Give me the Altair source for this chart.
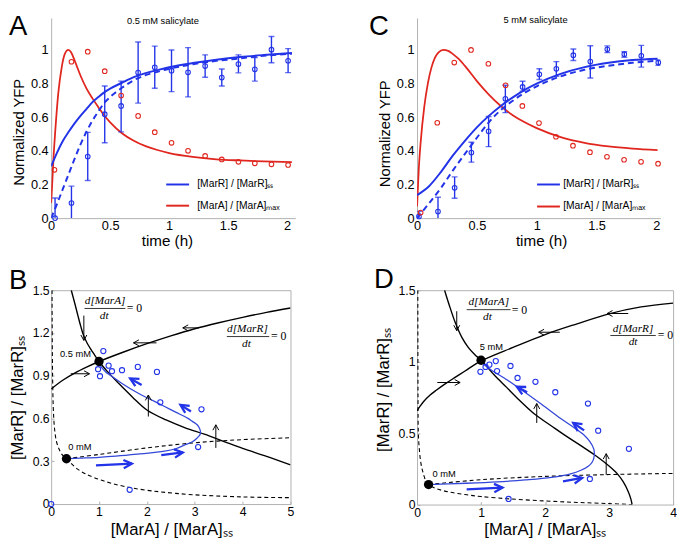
import math
import altair as alt
import pandas as pd

FONT = "Liberation Sans"
SERIF = "Liberation Serif"
BLUE = "#2233e8"
BLUE_TRAJ = "#3347d8"
RED = "#e0261e"
GRAY = "#b0b0b0"

# ============================ DATA ============================
# ---- Panel A : 0.5 mM salicylate ----
A_cond = "0.5 mM salicylate"
A_R_t = [0.033, 0.172, 0.31, 0.454, 0.593, 0.737, 0.878, 1.02, 1.16, 1.305, 1.446, 1.587, 1.726, 1.867, 2.008]
A_R_v = [0.0, 0.09, 0.366, 0.618, 0.667, 0.866, 0.897, 0.877, 0.867, 0.904, 0.836, 0.916, 0.885, 1.002, 0.936]
A_R_lo = [-0.12, -0.01, 0.224, 0.448, 0.513, 0.684, 0.772, 0.752, 0.721, 0.838, 0.786, 0.864, 0.815, 0.924, 0.865]
A_R_hi = [0.12, 0.19, 0.51, 0.786, 0.815, 1.047, 1.023, 1.0, 1.014, 0.971, 0.887, 0.971, 0.955, 1.08, 1.008]
A_A_t = [0.028, 0.172, 0.31, 0.454, 0.593, 0.737, 0.878, 1.02, 1.16, 1.305, 1.446, 1.587, 1.726, 1.867, 2.008]
A_A_v = [0.287, 0.93, 0.99, 0.874, 0.729, 0.608, 0.511, 0.448, 0.4, 0.37, 0.349, 0.335, 0.326, 0.32, 0.316]
A_mA_t = [0, 0.01, 0.02, 0.035, 0.06, 0.09, 0.115, 0.145, 0.17, 0.2, 0.25, 0.3, 0.35, 0.4, 0.45, 0.5,
          0.6, 0.7, 0.8, 0.9, 1.0, 1.2, 1.4, 1.6, 1.8, 2.04]
A_mA_v = [0.09, 0.22, 0.36, 0.52, 0.74, 0.9, 0.975, 1.0, 0.985, 0.935, 0.845, 0.77, 0.712, 0.66, 0.61, 0.57,
          0.505, 0.46, 0.428, 0.405, 0.387, 0.364, 0.35, 0.343, 0.338, 0.333]
A_mR_t = [0, 0.05, 0.1, 0.15, 0.2, 0.25, 0.3, 0.35, 0.4, 0.45, 0.5, 0.6, 0.7, 0.8, 0.9, 1.0, 1.2, 1.4, 1.6, 1.8, 2.04]
A_mR_v = [0.308, 0.39, 0.46, 0.515, 0.565, 0.61, 0.65, 0.69, 0.72, 0.748, 0.77, 0.805, 0.838, 0.862, 0.88, 0.897,
          0.922, 0.942, 0.958, 0.97, 0.982]
A_mRd_v = [0, 0.085, 0.175, 0.265, 0.355, 0.44, 0.515, 0.58, 0.635, 0.685, 0.72, 0.775, 0.82, 0.85, 0.87, 0.888,
           0.915, 0.935, 0.95, 0.965, 0.978]

# ---- Panel C : 5 mM salicylate ----
C_cond = "5 mM salicylate"
C_R_t = [0.016, 0.175, 0.314, 0.454, 0.598, 0.738, 0.882, 1.022, 1.164, 1.306, 1.448, 1.59, 1.732, 1.874, 2.016]
C_R_v = [0.01, 0.039, 0.18, 0.39, 0.516, 0.71, 0.78, 0.855, 0.888, 0.969, 0.931, 1.004, 0.975, 0.965, 0.925]
C_R_lo = [-0.02, -0.05, 0.118, 0.333, 0.425, 0.627, 0.755, 0.824, 0.843, 0.937, 0.833, 0.984, 0.957, 0.898, 0.908]
C_R_hi = [0.04, 0.124, 0.245, 0.451, 0.604, 0.79, 0.814, 0.888, 0.931, 1.006, 1.025, 1.024, 0.99, 1.027, 0.94]
C_A_t = [0.03, 0.169, 0.311, 0.451, 0.596, 0.74, 0.88, 1.019, 1.161, 1.303, 1.445, 1.587, 1.73, 1.872, 2.014]
C_A_v = [0.033, 0.567, 0.925, 1.0, 0.918, 0.79, 0.667, 0.565, 0.484, 0.431, 0.392, 0.365, 0.347, 0.335, 0.324]
C_mA_t = [0, 0.015, 0.03, 0.06, 0.09, 0.12, 0.15, 0.18, 0.22, 0.26, 0.3, 0.35, 0.4, 0.5, 0.6, 0.7, 0.8, 0.9,
          1.0, 1.2, 1.4, 1.6, 1.8, 2.01]
C_mA_v = [0.07, 0.3, 0.45, 0.66, 0.8, 0.895, 0.955, 0.985, 1.0, 0.995, 0.975, 0.945, 0.905, 0.815, 0.735, 0.667,
          0.612, 0.57, 0.535, 0.482, 0.448, 0.427, 0.414, 0.405]
C_mR_t = [0, 0.1, 0.2, 0.3, 0.4, 0.5, 0.6, 0.7, 0.8, 0.9, 1.0, 1.2, 1.4, 1.6, 1.8, 2.01]
C_mR_v = [0.137, 0.19, 0.275, 0.373, 0.46, 0.54, 0.608, 0.667, 0.718, 0.763, 0.8, 0.858, 0.898, 0.924, 0.94, 0.948]
C_mRd_v = [0, 0.088, 0.18, 0.284, 0.382, 0.478, 0.57, 0.643, 0.698, 0.745, 0.784, 0.843, 0.882, 0.906, 0.924, 0.936]

LEG_R = "[MarR] / [MarR]\u209b\u209b"
LEG_A = "[MarA] / [MarA]\u2098\u2090\u2093"

# ---- Panel B : phase plane, 0.5 mM ----
B_nullR_a = [0, 0.25, 0.5, 0.75, 1, 1.5, 2, 2.5, 3, 3.5, 4, 4.5, 5]
B_nullR_r = [0.807, 0.87, 0.92, 0.962, 1.0, 1.065, 1.125, 1.18, 1.23, 1.272, 1.31, 1.345, 1.375]
B_nullA_a = [0.42, 0.5, 0.56, 0.62, 0.68, 0.75, 0.83, 0.9, 1.0, 1.2, 1.4, 1.7, 2.0, 2.4, 2.8, 3.2, 3.6, 4.0, 4.5, 5.0]
B_nullA_r = [1.5, 1.4, 1.32, 1.245, 1.18, 1.13, 1.085, 1.05, 1.0, 0.92, 0.85, 0.75, 0.66, 0.59, 0.535, 0.49,
             0.44, 0.39, 0.335, 0.275]
B_null0A_a = [0.018, 0.02, 0.025, 0.032, 0.045, 0.07, 0.11, 0.16, 0.22, 0.32, 0.56, 0.9, 1.58, 2.6, 4.0, 5.0]
B_null0A_r = [1.5, 1.3, 1.05, 0.85, 0.67, 0.53, 0.44, 0.39, 0.35, 0.318, 0.243, 0.185, 0.12, 0.075, 0.05, 0.045]
B_null0R_a = [0.32, 1, 2, 3, 4, 5]
B_null0R_r = [0.318, 0.348, 0.394, 0.43, 0.452, 0.465]
B_traj_a = [0.32, 0.6, 1.0, 1.35, 1.8, 2.37, 2.6, 2.78, 2.95, 3.05, 3.11, 3.12, 3.1, 3.05, 2.95, 2.85, 2.6, 2.37,
            2.1, 1.82, 1.48, 1.25, 1.14, 1.05, 1.0]
B_traj_r = [0.318, 0.322, 0.328, 0.336, 0.35, 0.371, 0.388, 0.413, 0.437, 0.464, 0.487, 0.505, 0.53, 0.556, 0.58,
            0.603, 0.645, 0.684, 0.73, 0.777, 0.846, 0.9, 0.927, 0.96, 0.99]
B_obs_a = [0, 1.64, 3.07, 3.14, 2.28, 2.21, 1.81, 1.48, 1.27, 1.2, 1.09, 0.98, 1.02]
B_obs_r = [0, 0.1, 0.4, 0.665, 0.714, 0.927, 0.962, 0.939, 0.932, 0.971, 1.073, 0.946, 0.897]
B_fix_a = [0.32, 1.0]
B_fix_r = [0.318, 1.0]
B_fix_lab = ["0 mM", "0.5 mM"]
B_black_arrows = [(0.683, 1.322, 0.683, 1.148), (0.41, 0.914, 0.80, 0.914), (2.20, 1.131, 1.72, 1.131),
                  (3.09, 1.236, 2.75, 1.236), (2.03, 0.614, 2.03, 0.765), (3.44, 0.394, 3.44, 0.556)]
B_blue_arrows = [(0.936, 0.271, 1.687, 0.283), (2.30, 0.343, 2.75, 0.362), (2.92, 0.649, 2.70, 0.696),
                 (1.89, 0.835, 1.65, 0.881)]

# ---- Panel D : phase plane, 5 mM ----
D_nullR_a = [0, 0.05, 0.1, 0.2, 0.3, 0.45, 0.6, 0.75, 1.0, 1.5, 2.0, 2.5, 3.0, 3.5, 4.0]
D_nullR_r = [0.657, 0.69, 0.72, 0.765, 0.8, 0.848, 0.892, 0.935, 1.005, 1.1, 1.19, 1.265, 1.335, 1.383, 1.41]
D_nullA_a = [0.43, 0.5, 0.6, 0.7, 0.8, 0.9, 1.0, 1.2, 1.4, 1.6, 1.85, 2.1, 2.36, 2.6, 2.82, 3.0, 3.12, 3.22, 3.3,
             3.34, 3.36]
D_nullA_r = [1.5, 1.4, 1.27, 1.17, 1.1, 1.05, 1.01, 0.91, 0.82, 0.73, 0.628, 0.55, 0.47, 0.4, 0.333, 0.27, 0.22,
             0.16, 0.09, 0.04, 0.0]
D_null0A_a = [0.012, 0.013, 0.015, 0.02, 0.035, 0.06, 0.09, 0.14, 0.18, 0.3, 0.5, 0.75, 1.0, 1.44, 2.0, 2.5, 3.0, 3.36]
D_null0A_r = [1.5, 1.1, 0.75, 0.5, 0.39, 0.29, 0.23, 0.163, 0.14, 0.112, 0.088, 0.07, 0.056, 0.04, 0.025, 0.015,
              0.007, 0.0]
D_null0R_a = [0.18, 1, 2, 3, 4]
D_null0R_r = [0.14, 0.174, 0.197, 0.21, 0.218]
D_traj_a = [0.18, 0.5, 0.93, 1.34, 1.69, 2.1, 2.4, 2.56, 2.68, 2.74, 2.77, 2.76, 2.7, 2.6, 2.45, 2.25, 1.95, 1.64,
            1.39, 1.18, 1.05, 1.0]
D_traj_r = [0.14, 0.145, 0.152, 0.161, 0.172, 0.19, 0.215, 0.24, 0.27, 0.3, 0.345, 0.39, 0.44, 0.49, 0.54, 0.6,
            0.7, 0.8, 0.877, 0.935, 0.98, 1.005]
D_obs_a = [0.99, 1.07, 1.13, 1.23, 1.25, 1.46, 1.57, 1.85, 2.16, 2.67, 2.83, 3.31, 2.70, 1.43]
D_obs_r = [0.929, 0.963, 0.979, 1.004, 0.934, 0.97, 0.886, 0.859, 0.786, 0.707, 0.517, 0.39, 0.179, 0.039]
D_fix_a = [0.18, 1.0]
D_fix_r = [0.14, 1.01]
D_fix_lab = ["0 mM", "5 mM"]
D_black_arrows = [(0.62, 1.353, 0.62, 1.217), (0.316, 0.854, 0.673, 0.854), (2.23, 1.206, 1.90, 1.206),
                  (3.30, 1.337, 2.97, 1.337), (1.87, 0.571, 1.87, 0.707), (2.955, 0.208, 2.955, 0.356)]
D_blue_arrows = [(0.775, 0.107, 1.335, 0.118), (2.28, 0.163, 2.58, 0.186), (2.61, 0.519, 2.44, 0.571),
                 (1.72, 0.786, 1.56, 0.825)]

XT_PHASE = "[MarA] / [MarA]\u209b\u209b"
YT_PHASE = "[MarR] / [MarR]\u209b\u209b"

# ============================ LAYOUT ============================
W_A, W_C, H_TOP = 249, 248, 204
W_B, H_B = 244, 218
W_D, H_D = 261, 218.5
ROW_GAP, COL_GAP = 73.5, 124
CHEVRON = "M-1,-0.55L0,0L-1,0.55"
CHEVRON_B = "M-1,-0.5L0,0L-1,0.5"


def frame(x, y, **extra):
    d = pd.DataFrame({"x": list(x), "y": list(y)})
    d["i"] = range(len(d))
    for k, v in extra.items():
        d[k] = list(v)
    return d


def letter_mark(letter, lx, ly):
    return alt.Chart(pd.DataFrame({"t": [letter]})).mark_text(
        align="left", baseline="alphabetic", font=FONT, fontSize=28, color="black"
    ).encode(x=alt.value(lx), y=alt.value(ly), text="t:N")


def text_at(X, Y, xs, ys, texts, size, align="left", font=FONT, style="normal", color="black"):
    d = frame(xs, ys, t=texts)
    return alt.Chart(d).mark_text(align=align, baseline="middle", font=font, fontSize=size,
                                  fontStyle=style, color=color).encode(x=X, y=Y, text="t:N")


def timecourse(letter, lx, ly, cond, cond_xy, xmax, width, ytx, yty, xtx,
               R_t, R_v, R_lo, R_hi, A_t, A_v, mA_t, mA_v, mR_t, mR_v, mRd_v, leg):
    xs = alt.Scale(domain=[0, xmax], nice=False, zero=False)
    ys = alt.Scale(domain=[0, 1.19], nice=False, zero=False)
    ax = alt.Axis(values=[0, 0.5, 1, 1.5, 2], format="~g", title="time (h)", grid=False, ticks=False,
                  domainColor=GRAY, labelFontSize=13, labelPadding=1.5, labelFlush=False,
                  titleFontSize=15.5, titleFontWeight="normal", titleX=xtx, titleY=23,
                  titleBaseline="middle", titleAlign="center")
    ay = alt.Axis(values=[0, 0.2, 0.4, 0.6, 0.8, 1], format="~g", title="Normalized YFP", grid=False,
                  ticks=False, domainColor=GRAY, labelFontSize=13, labelPadding=3,
                  titleFontSize=15, titleFontWeight="normal", titleX=ytx, titleY=yty,
                  titleBaseline="middle", titleAlign="center", titleAngle=270)
    X = alt.X("x:Q", scale=xs, axis=ax)
    Y = alt.Y("y:Q", scale=ys, axis=ay)
    L = []
    L.append(alt.Chart(frame(mA_t, mA_v)).mark_line(color=RED, strokeWidth=1.8, interpolate="monotone",
                                                    clip=True).encode(x=X, y=Y))
    L.append(alt.Chart(frame(mR_t, mR_v)).mark_line(color=BLUE, strokeWidth=2.0, interpolate="monotone",
                                                    clip=True).encode(x=X, y=Y))
    L.append(alt.Chart(frame(mR_t, mRd_v)).mark_line(color=BLUE, strokeWidth=2.0, strokeDash=[6, 4],
                                                     interpolate="monotone", clip=True).encode(x=X, y=Y))
    eb = pd.DataFrame({"x": R_t, "y": R_lo, "y2": R_hi})
    L.append(alt.Chart(eb).mark_rule(color=BLUE, strokeWidth=1.4, clip=True).encode(x=X, y=Y, y2="y2:Q"))
    L.append(alt.Chart(frame(R_t + R_t, R_lo + R_hi)).mark_tick(
        color=BLUE, orient="horizontal", size=6, thickness=1.4, clip=True).encode(x=X, y=Y))
    L.append(alt.Chart(frame(R_t, R_v)).mark_point(shape="circle", filled=False, color=BLUE, size=22,
                                                   strokeWidth=1.1, opacity=1).encode(x=X, y=Y))
    L.append(alt.Chart(frame(A_t, A_v)).mark_point(shape="circle", filled=False, color=RED, size=22,
                                                   strokeWidth=1.1, opacity=1).encode(x=X, y=Y))
    x0, x1, tx, yR, yA = leg
    ld = pd.DataFrame({"x": [x0, x0], "x2": [x1, x1], "y": [yR, yA], "c": [BLUE, RED]})
    L.append(alt.Chart(ld).mark_rule(strokeWidth=2).encode(x=X, x2="x2:Q", y=Y,
                                                            color=alt.Color("c:N", scale=None)))
    L.append(text_at(X, Y, [tx, tx], [yR, yA], [LEG_R, LEG_A], 10.5))
    L.append(text_at(X, Y, [cond_xy[0]], [cond_xy[1]], [cond], 9.5, align="center"))
    L.append(letter_mark(letter, lx, ly))
    return alt.layer(*L).properties(width=width, height=H_TOP)


def arrows(X, Y, xscale_px, yscale_px, segs, color, sw, size, path):
    rows = []
    for (x1, y1, x2, y2) in segs:
        ang = math.degrees(math.atan2(-(y2 - y1) * yscale_px, (x2 - x1) * xscale_px)) % 360
        rows.append({"x": x1, "y": y1, "x2": x2, "y2": y2, "hx": x2, "hy": y2, "ang": ang})
    d = pd.DataFrame(rows)
    shaft = alt.Chart(d).mark_rule(color=color, strokeWidth=sw).encode(x=X, y=Y, x2="x2:Q", y2="y2:Q")
    hd = d[["hx", "hy", "ang"]].rename(columns={"hx": "x", "hy": "y"})
    head = alt.Chart(hd).mark_point(shape=path, filled=False, color=color, strokeWidth=sw, size=size,
                                    opacity=1).encode(x=X, y=Y, angle=alt.Angle("ang:Q", scale=None))
    return [shaft, head]


def fraction(X, Y, num, nx, ny, bx0, bx1, by, dx_, dy_, ex):
    L = []
    L.append(text_at(X, Y, [nx, dx_], [ny, dy_], [num, "dt"], 11.5, align="center", font=SERIF,
                     style="italic"))
    b = pd.DataFrame({"x": [bx0], "x2": [bx1], "y": [by]})
    L.append(alt.Chart(b).mark_rule(color="black", strokeWidth=0.8).encode(x=X, x2="x2:Q", y=Y))
    L.append(text_at(X, Y, [ex], [by], ["= 0"], 12, font=SERIF))
    return L


def phase(letter, lx, ly, xmax, xvals, yvals, width, height, xtx, ytx, yty,
          nullR, nullA, null0A, null0R, traj, obs, fix, fix_lab_specs,
          black_arrows, blue_arrows, fracA, fracR):
    xs = alt.Scale(domain=[0, xmax], nice=False, zero=False)
    ys = alt.Scale(domain=[0, 1.5], nice=False, zero=False)
    common = dict(format="~g", grid=False, domain=False, ticks=True, tickSize=3, tickColor=GRAY,
                  offset=-3, labelFontSize=12.5, labelPadding=2, titleFontSize=17, titleFontWeight="normal",
                  titleBaseline="middle", titleAlign="center")
    ax = alt.Axis(values=xvals, title=XT_PHASE, labelFlush=False, titleX=xtx, titleY=29, **common)
    ay = alt.Axis(values=yvals, title=YT_PHASE, titleX=ytx, titleY=yty, titleAngle=270, **common)
    X = alt.X("x:Q", scale=xs, axis=ax)
    Y = alt.Y("y:Q", scale=ys, axis=ay)
    sx, sy = width / xmax, height / 1.5
    L = []
    L.append(alt.Chart(frame(*null0A)).mark_line(color="black", strokeWidth=1.1, strokeDash=[4, 3],
                                                 interpolate="catmull-rom", clip=True)
             .encode(x=X, y=Y, order=alt.Order("i:Q")))
    L.append(alt.Chart(frame(*null0R)).mark_line(color="black", strokeWidth=1.1, strokeDash=[4, 3],
                                                 interpolate="catmull-rom", clip=True)
             .encode(x=X, y=Y, order=alt.Order("i:Q")))
    for c in (nullR, nullA):
        L.append(alt.Chart(frame(*c)).mark_line(color="black", strokeWidth=1.4, interpolate="catmull-rom",
                                                clip=True).encode(x=X, y=Y, order=alt.Order("i:Q")))
    L.append(alt.Chart(frame(*traj)).mark_line(color=BLUE_TRAJ, strokeWidth=1.3, interpolate="catmull-rom",
                                               clip=True).encode(x=X, y=Y, order=alt.Order("i:Q")))
    L.append(alt.Chart(frame(*obs)).mark_point(shape="circle", filled=False, color=BLUE, size=28,
                                               strokeWidth=1.1, opacity=1).encode(x=X, y=Y))
    L += arrows(X, Y, sx, sy, black_arrows, "black", 1.0, 121, CHEVRON)
    L += arrows(X, Y, sx, sy, blue_arrows, BLUE, 2.3, 289, CHEVRON_B)
    L.append(alt.Chart(frame(*fix)).mark_circle(color="black", size=90, opacity=1).encode(x=X, y=Y))
    for (tx, ty, lab, al) in fix_lab_specs:
        L.append(text_at(X, Y, [tx], [ty], [lab], 9.5, align=al))
    L += fraction(X, Y, "d[MarA]", *fracA)
    L += fraction(X, Y, "d[MarR]", *fracR)
    L.append(letter_mark(letter, lx, ly))
    return alt.layer(*L).properties(width=width, height=height,
                                    view=alt.ViewBackground(stroke=GRAY, strokeWidth=1))


pA = timecourse("A", -43, 17, A_cond, (0.947, 1.174), 2.07, W_A, -33.5, 116, 118,
                A_R_t, A_R_v, A_R_lo, A_R_hi, A_A_t, A_A_v, A_mA_t, A_mA_v, A_mR_t, A_mR_v, A_mRd_v,
                (0.975, 1.169, 1.238, 0.2, 0.074))
pC = timecourse("C", -49, 17, C_cond, (0.99, 1.176), 2.033, W_C, -33.5, 117.5, 126.5,
                C_R_t, C_R_v, C_R_lo, C_R_hi, C_A_t, C_A_v, C_mA_t, C_mA_v, C_mR_t, C_mR_v, C_mRd_v,
                (1.003, 1.194, 1.221, 0.2, 0.069))
pB = phase("B", -43, -1, 5, [0, 1, 2, 3, 4, 5], [0, 0.3, 0.6, 0.9, 1.2, 1.5], W_B, H_B, 122.3, -37.3, 109.5,
           (B_nullR_a, B_nullR_r), (B_nullA_a, B_nullA_r), (B_null0A_a, B_null0A_r), (B_null0R_a, B_null0R_r),
           (B_traj_a, B_traj_r), (B_obs_a, B_obs_r), (B_fix_a, B_fix_r),
           [(0.355, 0.403, B_fix_lab[0], "left"), (0.83, 1.05, B_fix_lab[1], "right")],
           B_black_arrows, B_blue_arrows,
           (1.127, 1.427, 0.697, 1.55, 1.372, 1.107, 1.316, 1.58),
           (4.1, 1.228, 3.67, 4.555, 1.175, 4.08, 1.124, 4.59))
pD = phase("D", -44, -2, 4, [0, 1, 2, 3, 4], [0, 0.5, 1, 1.5], W_D, H_D, 130.2, -37, 101.2,
           (D_nullR_a, D_nullR_r), (D_nullA_a, D_nullA_r), (D_null0A_a, D_null0A_r), (D_null0R_a, D_null0R_r),
           (D_traj_a, D_traj_r), (D_obs_a, D_obs_r), (D_fix_a, D_fix_r),
           [(0.24, 0.215, D_fix_lab[0], "left"), (0.98, 1.103, D_fix_lab[1], "left")],
           D_black_arrows, D_blue_arrows,
           (1.12, 1.417, 0.775, 1.46, 1.364, 1.10, 1.309, 1.48),
           (3.374, 1.228, 3.02, 3.73, 1.183, 3.374, 1.137, 3.76))

chart = alt.concat(pA, pC, pB, pD, columns=2, spacing={"row": ROW_GAP, "column": COL_GAP},
                   bounds="flush", align="none").properties(padding=0)
chart = chart.configure(font=FONT).configure_axis(
    labelFont=FONT, titleFont=FONT, labelColor="black", titleColor="black", titleFontWeight="normal"
).configure_view(stroke=None)

chart.save("out.html", embed_options={"renderer": "svg", "actions": False})
